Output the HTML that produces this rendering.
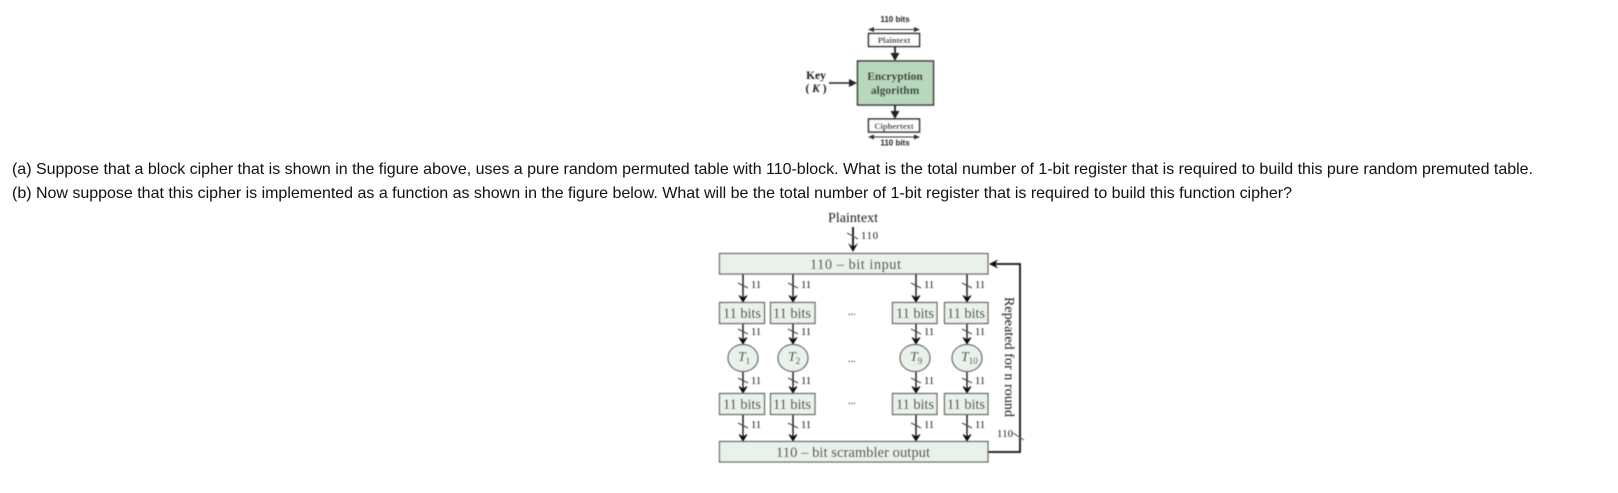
<!DOCTYPE html>
<html><head><meta charset="utf-8"><style>
html,body{margin:0;padding:0;background:#fff;width:1618px;height:493px;overflow:hidden}
svg{display:block}
.p{font-family:"Liberation Sans",Arial,sans-serif;font-size:16px;fill:#111}
.s{font-family:"Liberation Serif",serif;fill:#1a1a1a}
.h{font-family:"Liberation Sans",sans-serif;fill:#222;font-weight:bold}
</style></head><body>
<svg width="1618" height="493" viewBox="0 0 1618 493" xmlns="http://www.w3.org/2000/svg">
<defs>
<filter id="b" x="-5%" y="-5%" width="110%" height="110%"><feGaussianBlur stdDeviation="0.4"/></filter>
<g id="h"><path d="M-4 -6.500L0 0L4 -6.500L0 -4Z" fill="#111" stroke="#111" stroke-width=".8"/></g>
</defs>
<text class="p" x="12" y="174" textLength="1521" lengthAdjust="spacing">(a) Suppose that a block cipher that is shown in the figure above, uses a pure random permuted table with 110-block. What is the total number of 1-bit register that is required to build this pure random premuted table.</text>
<text class="p" x="12" y="198" textLength="1280" lengthAdjust="spacing">(b) Now suppose that this cipher is implemented as a function as shown in the figure below. What will be the total number of 1-bit register that is required to build this function cipher?</text>

<g filter="url(#b)">
<g transform="translate(0 -1)">
<text class="h" x="895" y="23" font-size="8" text-anchor="middle">110 bits</text>
<path d="M869 30.500H919" stroke="#333"/><path d="M868 30.500l6-2.500v5zM920 30.500l-6-2.500v5z" fill="#333"/>
<rect x="868.500" y="34.500" width="51" height="13" fill="#fff" stroke="#222" stroke-width="1.500"/>
<text class="s" x="894" y="44" font-size="8.500" font-weight="bold" text-anchor="middle">Plaintext</text>
<path d="M895 47V58" stroke="#222" stroke-width="1.800"/><path d="M890.500 54H899.500L895 62Z" fill="#222"/>
<rect x="857.500" y="62" width="76" height="44" fill="#b8d8bd" stroke="#333" stroke-width="1.500"/>
<text class="s" x="895" y="81" font-size="11.500" font-weight="bold" text-anchor="middle">Encryption</text>
<text class="s" x="895" y="95" font-size="11.500" font-weight="bold" text-anchor="middle">algorithm</text>
<text class="s" x="816" y="80" font-size="11.500" font-weight="bold" text-anchor="middle">Key</text>
<text class="s" x="816" y="93" font-size="11.500" font-weight="bold" text-anchor="middle">( <tspan font-style="italic">K</tspan> )</text>
<path d="M829 84H852" stroke="#222" stroke-width="1.500"/><path d="M849 80L857 84L849 88Z" fill="#222"/>
<path d="M895 106V115" stroke="#222" stroke-width="1.800"/><path d="M890.500 112H899.500L895 120Z" fill="#222"/>
<rect x="868.500" y="120" width="51" height="13" fill="#fff" stroke="#222" stroke-width="1.500"/>
<text class="s" x="894" y="130" font-size="8.500" font-weight="bold" text-anchor="middle">Ciphertext</text>
<path d="M869 138H919" stroke="#333"/><path d="M868 138l6-2.500v5zM920 138l-6-2.500v5z" fill="#333"/>
<text class="h" x="895" y="146.500" font-size="8" text-anchor="middle">110 bits</text>
</g>

<text class="s" x="853" y="222" font-size="14" text-anchor="middle" textLength="50">Plaintext</text>
<path d="M853 227V250" stroke="#111" stroke-width="1.800"/><path d="M848 243L853 252L858 243L853 247Z" fill="#111"/>
<path d="M847 233L858 239" stroke="#555"/>
<text class="s" x="861" y="239" font-size="10.500" textLength="17">110</text>

<g fill="#e9f2ea" stroke="#666" stroke-width="1.300">
<rect x="719.500" y="253.500" width="268.500" height="20.500"/>
<rect x="719.500" y="441.500" width="268.500" height="20.500"/>
<rect x="719.500" y="302.500" width="45" height="21"/><rect x="770.500" y="302.500" width="44.500" height="21"/>
<rect x="892.500" y="302.500" width="44.500" height="21"/><rect x="944.500" y="302.500" width="43.500" height="21"/>
<rect x="719.500" y="393.500" width="45" height="21"/><rect x="770.500" y="393.500" width="44.500" height="21"/>
<rect x="892.500" y="393.500" width="44.500" height="21"/><rect x="944.500" y="393.500" width="43.500" height="21"/>
<ellipse cx="743" cy="358" rx="15" ry="13.500"/><ellipse cx="793" cy="358" rx="15" ry="13.500"/>
<ellipse cx="915" cy="358" rx="15" ry="13.500"/><ellipse cx="967" cy="358" rx="15" ry="13.500"/>
</g>
<g class="s" font-size="14.500">
<text x="810" y="269" textLength="91">110 – bit input</text>
<text x="776" y="457" textLength="154">110 – bit scrambler output</text>
<g text-anchor="middle">
<text x="742" y="318" textLength="38">11 bits</text><text x="792" y="318" textLength="38">11 bits</text>
<text x="915" y="318" textLength="38">11 bits</text><text x="966" y="318" textLength="38">11 bits</text>
<text x="742" y="409" textLength="38">11 bits</text><text x="792" y="409" textLength="38">11 bits</text>
<text x="915" y="409" textLength="38">11 bits</text><text x="966" y="409" textLength="38">11 bits</text>
</g>
<g font-style="italic" font-size="14">
<text x="738" y="361">T<tspan font-size="9" dy="3" font-style="normal">1</tspan></text>
<text x="788" y="361">T<tspan font-size="9" dy="3" font-style="normal">2</tspan></text>
<text x="910" y="361">T<tspan font-size="9" dy="3" font-style="normal">9</tspan></text>
<text x="961" y="361">T<tspan font-size="9" dy="3" font-style="normal">10</tspan></text>
</g>
<g font-size="10">
<text x="848" y="315">...</text><text x="848" y="362">...</text><text x="848" y="404">...</text>
</g>
</g>
<path d="M743 274V300M793 274V300M916 274V300M967 274V300M743 324V342M793 324V342M916 324V342M967 324V342M743 372V391M793 372V391M916 372V391M967 372V391M743 415V439M793 415V439M916 415V439M967 415V439" stroke="#222" stroke-width="1.500" fill="none"/>
<path d="M738 283L748 288M788 283L798 288M911 283L921 288M962 283L972 288M738 329L748 334M788 329L798 334M911 329L921 334M962 329L972 334M738 378L748 383M788 378L798 383M911 378L921 383M962 378L972 383M738 423L748 428M788 423L798 428M911 423L921 428M962 423L972 428" stroke="#444" stroke-width="1"/>
<use href="#h" x="743" y="302"/><use href="#h" x="793" y="302"/><use href="#h" x="916" y="302"/><use href="#h" x="967" y="302"/>
<use href="#h" x="743" y="344"/><use href="#h" x="793" y="344"/><use href="#h" x="916" y="344"/><use href="#h" x="967" y="344"/>
<use href="#h" x="743" y="393"/><use href="#h" x="793" y="393"/><use href="#h" x="916" y="393"/><use href="#h" x="967" y="393"/>
<use href="#h" x="743" y="441"/><use href="#h" x="793" y="441"/><use href="#h" x="916" y="441"/><use href="#h" x="967" y="441"/>
<g class="s" font-size="10.500">
<text x="751" y="288">11</text><text x="801" y="288">11</text><text x="924" y="288">11</text><text x="975" y="288">11</text>
<text x="751" y="335">11</text><text x="801" y="335">11</text><text x="924" y="335">11</text><text x="975" y="335">11</text>
<text x="751" y="384">11</text><text x="801" y="384">11</text><text x="924" y="384">11</text><text x="975" y="384">11</text>
<text x="751" y="428">11</text><text x="801" y="428">11</text><text x="924" y="428">11</text><text x="975" y="428">11</text>
<text x="997" y="437" textLength="16">110</text>
</g>
<path d="M988 452H1020V264H994" stroke="#111" stroke-width="1.800" fill="none"/>
<path d="M989 264L998 259.500L995 264L998 268.500Z" fill="#111"/>
<path d="M1013 433L1024 440" stroke="#555"/>
<text class="s" transform="translate(1005 297) rotate(90)" font-size="14" textLength="120">Repeated for n round</text>
</g>
</svg>
</body></html>
